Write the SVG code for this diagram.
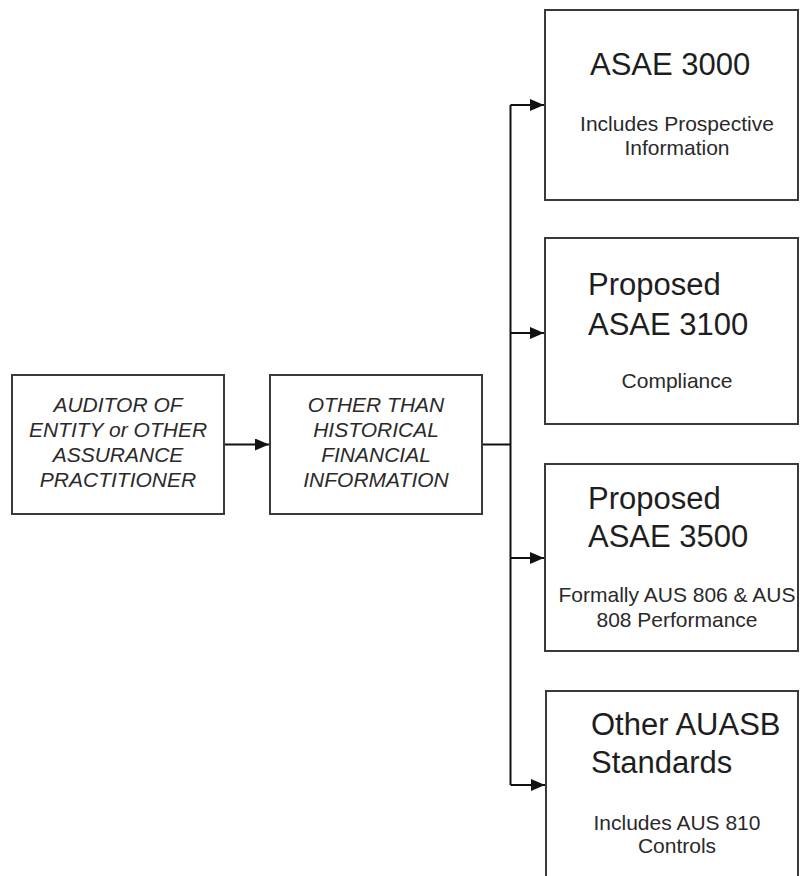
<svg xmlns="http://www.w3.org/2000/svg" width="801" height="876" viewBox="0 0 801 876">
<style>
.box{fill:#fff;stroke:#3a3a3a;stroke-width:2}
.it{font-family:"Liberation Sans",Arial,sans-serif;font-style:italic;font-size:21px;fill:#2a2a2a;text-anchor:middle}
.big{font-family:"Liberation Sans",Arial,sans-serif;font-size:31px;fill:#1e1e1e}
.sm{font-family:"Liberation Sans",Arial,sans-serif;font-size:21px;fill:#2a2a2a;text-anchor:middle}
.con{fill:none;stroke:#111;stroke-width:2}
</style>
<defs>
<marker id="ah" markerWidth="14" markerHeight="12" refX="14" refY="6" orient="auto" markerUnits="userSpaceOnUse">
<path d="M0,0 L14,6 L0,12 Z" fill="#111"/>
</marker>
</defs>
<rect width="801" height="876" fill="#fff"/>
<g id="connectors">
<line class="con" x1="224" y1="444.5" x2="269" y2="444.5" marker-end="url(#ah)"/>
<path class="con" d="M482,444.5 H510.5"/>
<path class="con" d="M510.5,105 V785"/>
<line class="con" x1="510.5" y1="105" x2="544" y2="105" marker-end="url(#ah)"/>
<line class="con" x1="510.5" y1="333" x2="544" y2="333" marker-end="url(#ah)"/>
<line class="con" x1="510.5" y1="558" x2="544" y2="558" marker-end="url(#ah)"/>
<line class="con" x1="510.5" y1="785" x2="545" y2="785" marker-end="url(#ah)"/>
</g>
<g id="auditor">
<rect class="box" x="12" y="375" width="212" height="139"/>
<text class="it" x="118" y="412">AUDITOR OF</text>
<text class="it" x="118" y="437">ENTITY or OTHER</text>
<text class="it" x="118" y="462">ASSURANCE</text>
<text class="it" x="118" y="487">PRACTITIONER</text>
</g>
<g id="other-than">
<rect class="box" x="270" y="375" width="212" height="139"/>
<text class="it" x="376" y="412">OTHER THAN</text>
<text class="it" x="376" y="437">HISTORICAL</text>
<text class="it" x="376" y="462">FINANCIAL</text>
<text class="it" x="376" y="487">INFORMATION</text>
</g>
<g id="asae3000">
<rect class="box" x="545" y="10" width="253" height="190"/>
<text class="big" x="590" y="75">ASAE 3000</text>
<text class="sm" x="677" y="131">Includes Prospective</text>
<text class="sm" x="677" y="155">Information</text>
</g>
<g id="asae3100">
<rect class="box" x="545" y="238" width="253" height="186"/>
<text class="big" x="588" y="295">Proposed</text>
<text class="big" x="588" y="335">ASAE 3100</text>
<text class="sm" x="677" y="388">Compliance</text>
</g>
<g id="asae3500">
<rect class="box" x="545" y="464" width="253" height="187"/>
<text class="big" x="588" y="509">Proposed</text>
<text class="big" x="588" y="547">ASAE 3500</text>
<text class="sm" x="677" y="602">Formally AUS 806 &amp; AUS</text>
<text class="sm" x="677" y="627">808 Performance</text>
</g>
<g id="other-auasb">
<rect class="box" x="546" y="691" width="252" height="200"/>
<text class="big" x="591" y="735">Other AUASB</text>
<text class="big" x="591" y="773">Standards</text>
<text class="sm" x="677" y="830">Includes AUS 810</text>
<text class="sm" x="677" y="853">Controls</text>
</g>
</svg>
